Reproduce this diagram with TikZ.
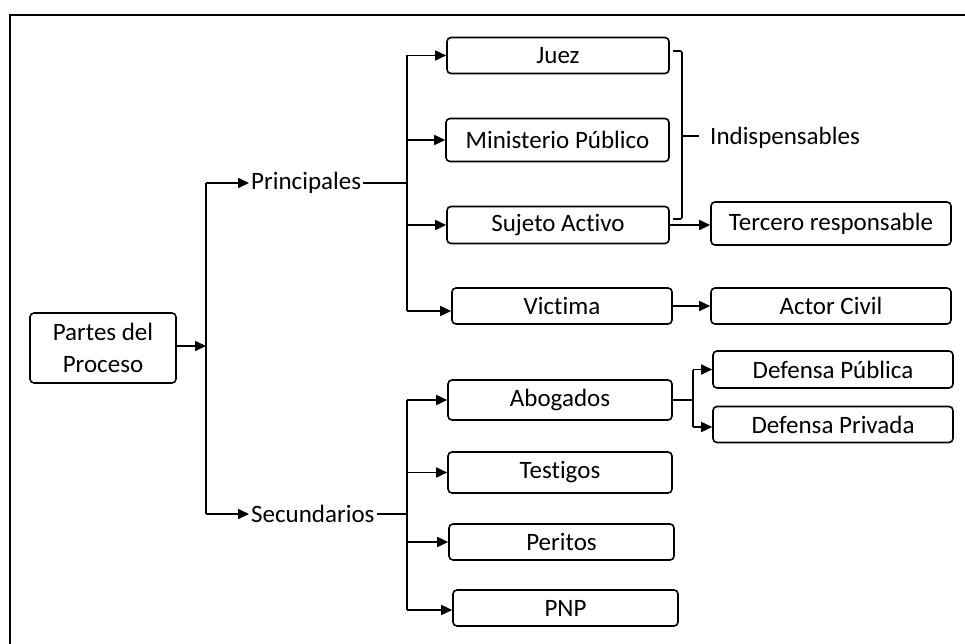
\documentclass[tikz,border=0pt]{standalone}
\usepackage{fontspec}
\setmainfont{Carlito}[RawFeature={-liga}]
\usetikzlibrary{arrows.meta}
\begin{document}
\begin{tikzpicture}[x=1pt,y=-1pt,
  txt/.style={font=\fontsize{25}{32}\selectfont},
  box/.style={txt, draw, line width=1.6pt, rounded corners=4pt, inner sep=0pt, align=center},
  lbl/.style={txt, inner sep=0pt, anchor=west},
  link/.style={line width=1.6pt},
  arr/.style={link, -{Triangle[length=11pt,width=10pt]}}]
\useasboundingbox (0,0) rectangle (965,644);
% frame
\draw[line width=2pt] (10,650) -- (10,15) -- (975,15);

% root
\node[box, minimum width=146pt, minimum height=70pt] (partes) at (103,348) {Partes del\\Proceso};

% first level labels
\node[lbl, inner xsep=2pt] (prin) at (249,183) {Principales};
\node[lbl, inner xsep=2pt] (sec) at (249,514) {Secundarios};

% principal parties
\node[box, minimum width=222pt, minimum height=36pt] (juez) at (558,55.5) {Juez};
\node[box, minimum width=223pt, minimum height=43pt] (mp) at (557.5,140) {Ministerio Público};
\node[box, minimum width=222pt, minimum height=37pt] (suj) at (558,225) {Sujeto Activo};
\node[box, minimum width=220pt, minimum height=36pt] (vict) at (562,306) {Victima};

\node[box, minimum width=240pt, minimum height=43pt] (terc) at (831,223.5) {Tercero responsable};
\node[box, minimum width=240pt, minimum height=36pt] (actor) at (831,306) {Actor Civil};

% secondary parties
\node[box, minimum width=224pt, minimum height=40pt] (abog) at (560,400) {Abogados};
\node[box, minimum width=224pt, minimum height=41pt] (test) at (560,472.5) {Testigos};
\node[box, minimum width=225pt, minimum height=36pt] (perit) at (561.5,542) {Peritos};
\node[box, minimum width=225pt, minimum height=36pt] (pnp) at (565.5,608) {PNP};

\node[box, minimum width=240pt, minimum height=37pt] (dpub) at (833,369.5) {Defensa Pública};
\node[box, minimum width=240pt, minimum height=36pt] (dpriv) at (833,424.5) {Defensa Privada};

% bracket label
\node[lbl] (ind) at (710,138) {Indispensables};

% branch points
\coordinate (bM) at (206,346);
\coordinate (bP) at (407,183);
\coordinate (bS) at (407,514);
\coordinate (vLow) at (407,311);
\coordinate (bA) at (693,400);
\coordinate (dLow) at (693,427);

% root to first level
\draw[arr] (partes.east |- bM) -- (bM);
\draw[link] (bM |- prin) -- (bM |- sec);
\draw[arr] (bM |- prin) -- (prin.west);
\draw[arr] (bM |- sec) -- (sec.west);

% principal branch
\draw[link] (prin.east) -- (bP);
\draw[link] (bP |- juez.west) -- (vLow);
\draw[arr] (bP |- juez.west) -- (juez.west);
\draw[arr] (bP |- mp.west) -- (mp.west);
\draw[arr] (bP |- suj.west) -- (suj.west);
\draw[arr] (vLow) -- (vLow -| vict.west);
\draw[arr] (suj.east) -- (suj.east -| terc.west);
\draw[arr] (vict.east) -- (vict.east -| actor.west);

% bracket around the indispensable parties
\draw[link, rounded corners=2pt] (673,51) -- (682,51) -- (682,219) -- (673,219);
\draw[link] (682,136) -- (699,136);

% secondary branch
\draw[link] (sec.east) -- (bS);
\draw[link] (bS |- abog.west) -- (bS |- 0,610);
\draw[arr] (bS |- abog.west) -- (abog.west);
\draw[arr] (bS |- test.west) -- (test.west);
\draw[arr] (bS |- perit.west) -- (perit.west);
\draw[arr] (bS |- 0,610) -- (pnp.west |- 0,610);

% lawyers
\draw[link] (abog.east) -- (bA);
\draw[link] (bA |- dpub.west) -- (dLow);
\draw[arr] (bA |- dpub.west) -- (dpub.west);
\draw[arr] (dLow) -- (dLow -| dpriv.west);
\end{tikzpicture}
\end{document}
